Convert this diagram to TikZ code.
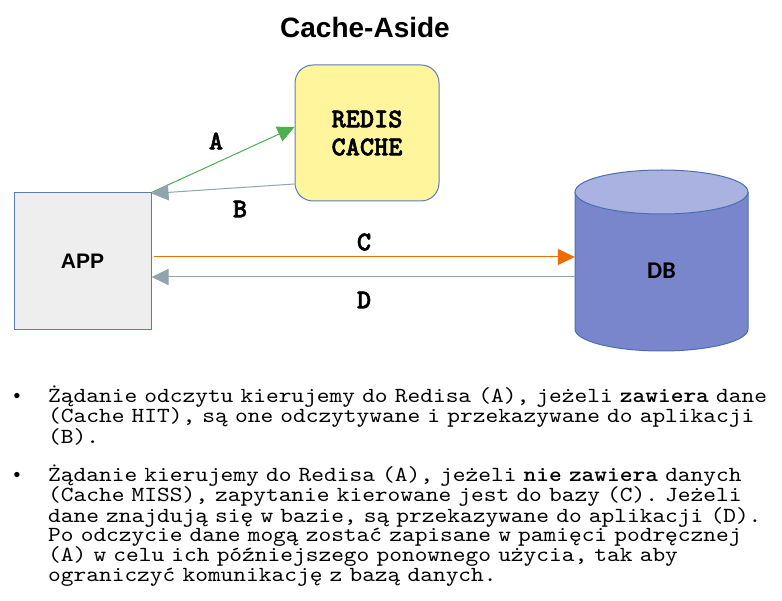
\documentclass[tikz,border=0pt]{standalone}
\usepackage{fontspec}
\setmainfont{Liberation Sans}
\newfontfamily\monof{Liberation Mono}
\newfontfamily\carl{Carlito}
\newfontfamily\cour{lmmono10-regular.otf}[BoldFont=lmmonolt10-bold.otf]
\newfontfamily\courbody{lmmono10-regular.otf}[BoldFont=lmmonolt10-bold.otf, FakeStretch=1.127]
\usetikzlibrary{arrows.meta}
\definecolor{redisfill}{HTML}{FFF59D}
\definecolor{boxborder}{HTML}{5B7DB5}
\definecolor{appfill}{HTML}{EEEEEE}
\definecolor{dbbody}{HTML}{7986CB}
\definecolor{dbtop}{HTML}{A9B2E0}
\definecolor{dbborder}{HTML}{4A6FB0}
\definecolor{agreen}{HTML}{4CAF50}
\definecolor{agray}{HTML}{90A4AE}
\definecolor{aorange}{HTML}{EF6C00}
\tikzset{
  boxlabel/.style={font=\fontsize{21}{24}\selectfont\bfseries},
  letterlabel/.style={font=\cour\fontsize{27}{28}\selectfont\bfseries\addfontfeature{FakeBold=2}, inner sep=0pt},
  conn/.style={line width=1pt, -{Triangle[length=17pt,width=16pt]}},
  bodytext/.style={font=\courbody\fontsize{21.5}{20}\selectfont, inner sep=0pt, text width=740pt, align=left, anchor=base west},
  bulletmark/.style={font=\monof\fontsize{19.5}{20}\selectfont, inner sep=0pt, anchor=base}
}
\begin{document}
\begin{tikzpicture}[x=1pt,y=-1pt]
\useasboundingbox (0,0) rectangle (782,601);
% title
\node[font=\fontsize{28}{32}\selectfont\bfseries] (title) at (365,27) {Cache-Aside};
% app
\node[draw=boxborder, fill=appfill, line width=1pt, minimum width=137pt, minimum height=137pt, inner sep=0pt, boxlabel] (app) at (82.5,261.5) {APP};
% redis
\node[draw=boxborder, fill=redisfill, line width=1pt, rounded corners=18pt, minimum width=144pt, minimum height=136pt, inner sep=0pt, align=center, font=\cour\fontsize{27}{28}\selectfont\bfseries\addfontfeature{FakeBold=2}] (redis) at (367,133) {REDIS\\CACHE};
% db cylinder
\fill[dbbody] (575,192) -- (575,329) arc[start angle=180,end angle=0,x radius=86.5,y radius=22] -- (748,192) arc[start angle=0,end angle=180,x radius=86.5,y radius=22] -- cycle;
\draw[dbborder, line width=1pt] (575,192) -- (575,329) arc[start angle=180,end angle=0,x radius=86.5,y radius=22] -- (748,192);
\filldraw[fill=dbtop, draw=dbborder, line width=1pt] (661.5,192) ellipse[x radius=86.5, y radius=22];
\node[minimum width=173pt, minimum height=181pt, inner sep=0pt] (db) at (661.5,260.5) {};
\node[font=\carl\fontsize{24}{26}\selectfont\bfseries] (dblabel) at (661.5,271) {DB};
% connectors
\coordinate (cy) at (0,257);
\coordinate (dy) at (0,277);
\draw[conn, agreen] (app.north east) -- ([yshift=6pt]redis.west);
\draw[conn, agray] ([yshift=-51pt]redis.west) -- ([yshift=-1pt]app.north east);
\draw[conn, aorange] ([xshift=2pt]app.east |- cy) -- (db.west |- cy);
\draw[conn, agray] (db.west |- dy) -- (app.east |- dy);
% letters
\node[letterlabel] (la) at (216,141) {A};
\node[letterlabel] (lb) at (240,209) {B};
\node[letterlabel] (lc) at (364,242) {C};
\node[letterlabel] (ld) at (364,300) {D};
% bullets
\node[bulletmark] (b1) at (17,403) {•};
\node[bodytext] (t1) at (48,403) {Żądanie odczytu kierujemy do Redisa (A), jeżeli \textbf{zawiera} dane\\(Cache HIT), są one odczytywane i przekazywane do aplikacji\\(B).};
\node[bulletmark] (b2) at (17,482) {•};
\node[bodytext] (t2) at (48,482) {Żądanie kierujemy do Redisa (A), jeżeli \textbf{nie zawiera} danych\\(Cache MISS), zapytanie kierowane jest do bazy (C). Jeżeli\\dane znajdują się w bazie, są przekazywane do aplikacji (D).\\Po odczycie dane mogą zostać zapisane w pamięci podręcznej\\(A) w celu ich późniejszego ponownego użycia, tak aby\\ograniczyć komunikację z bazą danych.};
\end{tikzpicture}
\end{document}
